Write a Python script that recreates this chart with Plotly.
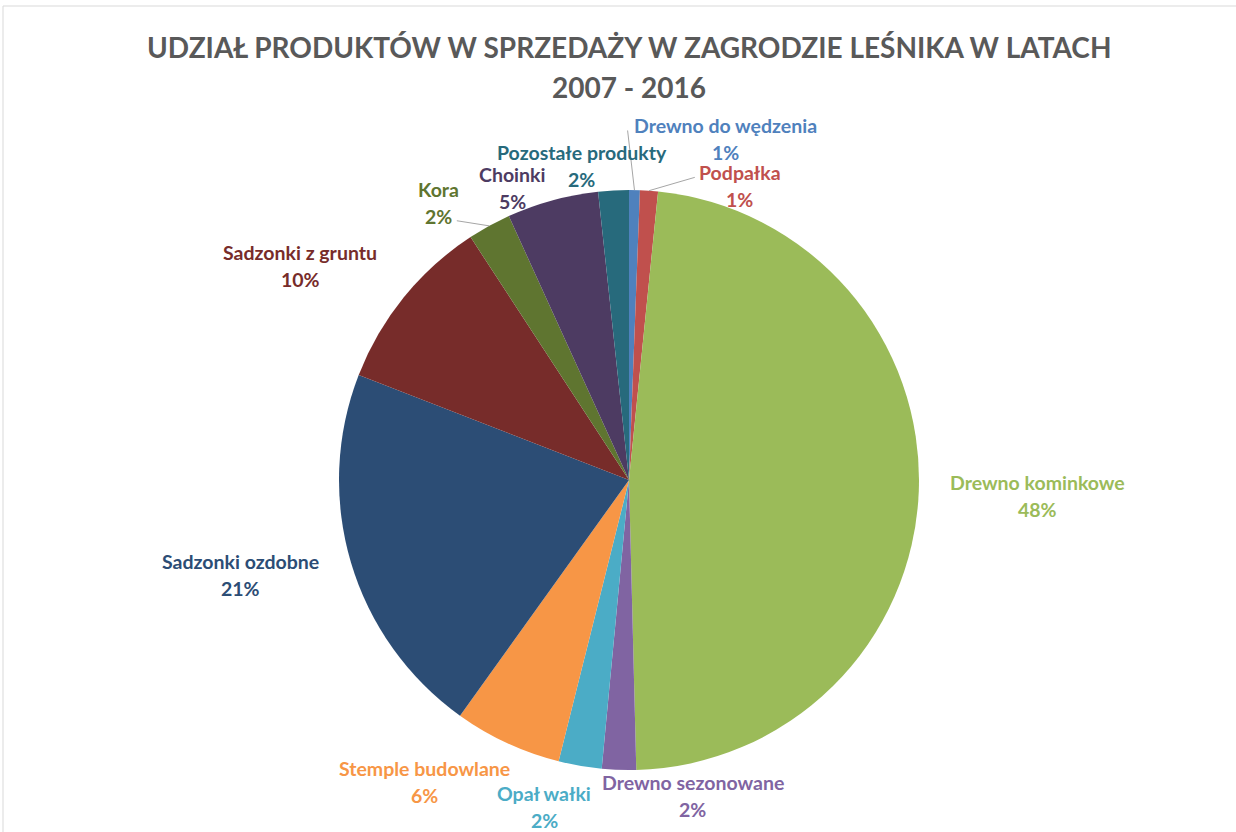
import math
import plotly.graph_objects as go

# ---- data ----
labels = ["Drewno do wędzenia", "Podpałka", "Drewno kominkowe", "Drewno sezonowane",
          "Opał wałki", "Stemple budowlane", "Sadzonki ozdobne", "Sadzonki z gruntu",
          "Kora", "Choinki", "Pozostałe produkty"]
values = [0.6, 1.0, 48.0, 1.9, 2.4, 6.0, 21.0, 9.9, 2.4, 5.1, 1.7]
colors = ["#4F81BD", "#C0504D", "#9BBB59", "#8064A2", "#4BACC6", "#F79646",
          "#2C4D75", "#772C2A", "#5F7530", "#4D3B62", "#276A7C"]
title_lines = ["UDZIAŁ PRODUKTÓW W SPRZEDAŻY W ZAGRODZIE LEŚNIKA W LATACH", "2007 - 2016"]

# label placement (polar, relative to slice middle): angle shift in degrees, distance in radii
label_shift_deg = [14.7, 16.7, 0.1, -13.4, 4.8, 9.3, 2.8, -6.0, -5.7, -6.5, -5.5]
label_dist = [1.222, 1.084, 1.411, 1.112, 1.165, 1.259, 1.378, 1.353, 1.158, 1.085, 1.094]
leader = ["left1", "left1", None, None, None, None, None, None, "right2", None, None]

# ---- layout geometry (screen pixels, body margin removed) ----
W, H = 1236, 832
CX, CY, R = 629, 480, 290
LABEL_FONT = 19.5
LINE_GAP = 27


def px(x):
    return x / W


def py(y):
    return 1 - y / H


fig = go.Figure()
fig.add_trace(go.Pie(
    labels=labels, values=values, sort=False, direction="clockwise", rotation=0,
    marker=dict(colors=colors, line=dict(width=0)),
    textinfo="none", hoverinfo="label+percent", showlegend=False,
    domain=dict(x=[px(CX - R), px(CX + R)], y=[py(CY + R), py(CY - R)]),
))

total = sum(values)
cum = 0.0
shapes = []
annotations = []
for i, (lab, v, col) in enumerate(zip(labels, values, colors)):
    mid = (cum + v / 2) / total * 360.0
    cum += v
    ang = math.radians(mid + label_shift_deg[i])
    lx = CX + R * label_dist[i] * math.sin(ang)
    ly = CY - R * label_dist[i] * math.cos(ang)
    pct = "%d%%" % round(v / total * 100)
    y1, y2 = ly - LINE_GAP / 2, ly + LINE_GAP / 2
    fnt = dict(family="Lato", size=LABEL_FONT, color=col, weight="bold")
    annotations.append(dict(x=px(lx), y=py(y1), xref="paper", yref="paper", text=lab,
                            showarrow=False, xanchor="center", yanchor="middle", font=fnt))
    annotations.append(dict(x=px(lx), y=py(y2), xref="paper", yref="paper", text=pct,
                            showarrow=False, xanchor="center", yanchor="middle", font=fnt))
    if leader[i]:
        m = math.radians(mid)
        ex, ey = CX + R * math.sin(m), CY - R * math.cos(m)
        if leader[i] == "left1":
            hw = len(lab) * LABEL_FONT * 0.27
            tx, ty = lx - hw - 3, y1 + 5
        else:
            hw = len(pct) * LABEL_FONT * 0.36
            tx, ty = lx + hw + 4, y2 + 4
        shapes.append(dict(type="line", xref="paper", yref="paper",
                           x0=px(ex), y0=py(ey), x1=px(tx), y1=py(ty),
                           line=dict(color="#A6A6A6", width=1)))

# light chart frame (top and left edges visible in the reference)
shapes.append(dict(type="line", xref="paper", yref="paper", x0=px(3), y0=py(6),
                   x1=1, y1=py(6), line=dict(color="#D9D9D9", width=1), layer="below"))
shapes.append(dict(type="line", xref="paper", yref="paper", x0=px(3), y0=py(6),
                   x1=px(3), y1=0, line=dict(color="#D9D9D9", width=1), layer="below"))

# title (two lines)
title_font = dict(family="Lato", size=28, color="#595959", weight="bold")
for txt, ty in zip(title_lines, [47, 87]):
    annotations.append(dict(x=px(629), y=py(ty), xref="paper", yref="paper", text=txt,
                            showarrow=False, xanchor="center", yanchor="middle", font=title_font))

fig.update_layout(
    width=W, height=H,
    margin=dict(l=0, r=0, t=0, b=0),
    paper_bgcolor="white", plot_bgcolor="white",
    shapes=shapes, annotations=annotations,
)

fig.write_html("out.html", config={"displayModeBar": False},
               post_script="document.body.style.margin='0';document.body.style.overflow='hidden';")
